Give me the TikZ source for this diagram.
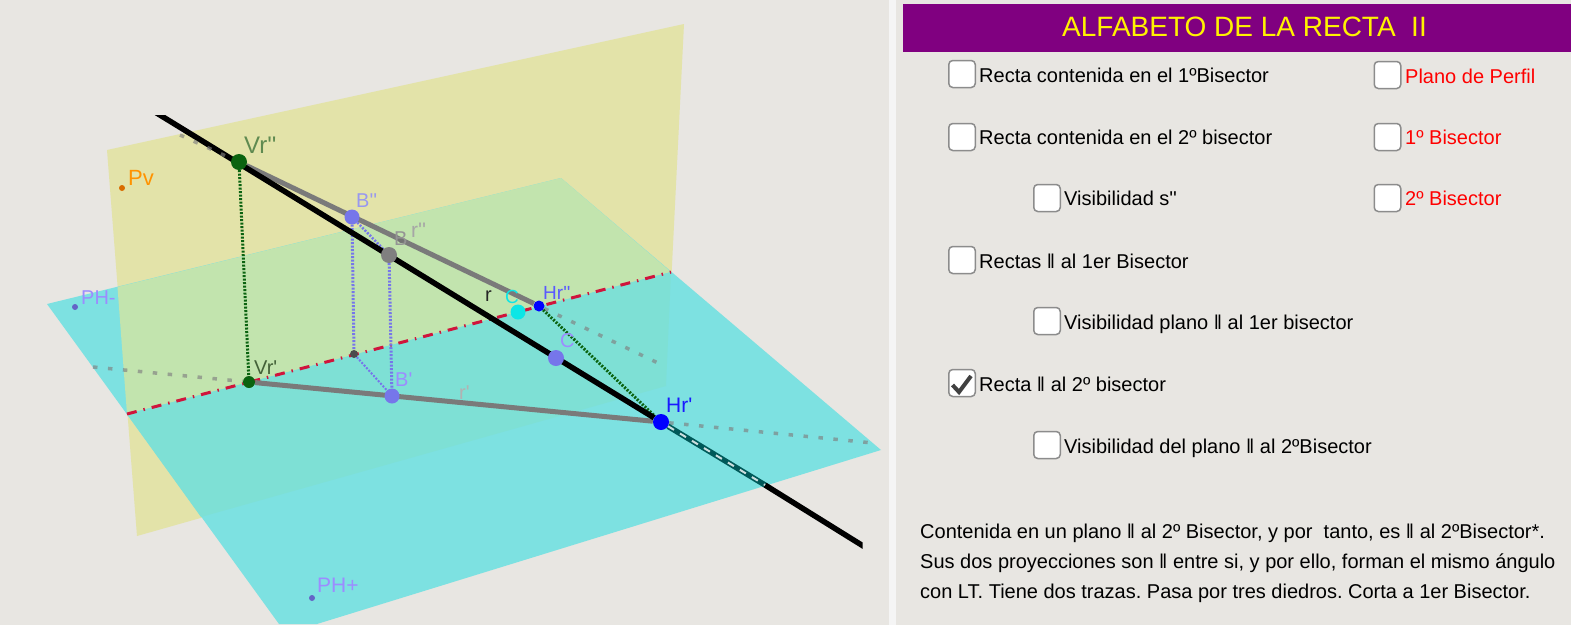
\documentclass[tikz,border=0pt]{standalone}
\usepackage{fontspec}
\setmainfont{Liberation Sans}[Ligatures=TeXOff]
\usepackage{tikz}
\usetikzlibrary{backgrounds}

\definecolor{panelbg}{HTML}{E8E6E2}
\definecolor{stripbg}{HTML}{F5F5F5}
\definecolor{planeyellow}{HTML}{E3E3A9}
\definecolor{planecyan}{HTML}{7DE1E1}
\definecolor{planegreen}{HTML}{C2E4AE}
\definecolor{planeteal}{HTML}{7EE0D5}
\definecolor{ltred}{HTML}{D0143C}
\definecolor{dgreen}{HTML}{0B6310}
\definecolor{bluept}{HTML}{7676EA}
\definecolor{cyanpt}{HTML}{0CE6E6}
\definecolor{violetlbl}{HTML}{9C8CFF}
\definecolor{greenlbl}{HTML}{5F8A50}
\definecolor{titlebg}{HTML}{800080}

\tikzset{
    pt/.style={circle, fill=#1, inner sep=0pt},
    lbl/.style={anchor=base west, inner sep=0pt, font=\fontsize{#1}{#1}\selectfont},
    chkbox/.style={draw=black!45, fill=white, line width=1.5pt, rounded corners=4pt,
        minimum width=26.5pt, minimum height=27pt, inner sep=0pt},
    txt/.style={anchor=base west, inner sep=0pt, font=\frenchspacing\fontsize{20}{20}\selectfont},
    ext/.style={black!50, opacity=.65, line width=3.5pt, dash pattern=on 4.5pt off 10.5pt},
    proj/.style={line width=3pt, dash pattern=on 2pt off 1.5pt},
}

\begin{document}
\begin{tikzpicture}[x=1pt, y=-1pt]
    \useasboundingbox (0,0) rectangle (1571,627);

    \node[pt=dgreen, minimum size=16pt] (vr2) at (239,162) {};
    \node[pt=dgreen, minimum size=12pt] (vr1) at (249,382) {};
    \node[pt=bluept, minimum size=15pt] (b2) at (352,217) {};
    \node[pt=black!50, minimum size=16pt] (b0) at (389,255) {};
    \node[pt=bluept, minimum size=15pt] (b1) at (392,396) {};
    \node[pt=black!70, minimum size=8pt] (bl) at (354,354) {};
    \node[pt=black!55, minimum size=6pt] (bm) at (401,240) {};
    \node[pt=cyanpt, minimum size=15pt] (o0) at (518,312) {};
    \node[pt=bluept, minimum size=16pt] (c0) at (556,358) {};
    \node[pt=blue, minimum size=11pt] (hr2) at (539,306) {};
    \node[pt=blue, minimum size=16pt] (hr1) at (661,422) {};
    \node[pt=orange!85!black, minimum size=6pt] (pv) at (122,188) {};
    \node[pt=bluept!85!black, minimum size=6pt] (phm) at (75,307) {};
    \node[pt=bluept!85!black, minimum size=6pt] (php) at (312,598) {};

    \coordinate (ra) at (155,112);
    \coordinate (rb) at (868,549);
    \coordinate (rc) at (765,485);
    \coordinate (lta) at (127,414);
    \coordinate (ltb) at (671,272);
    \coordinate (ea) at (180,135);
    \coordinate (eb) at (658,363);
    \coordinate (ec) at (93,367);
    \coordinate (ed) at (873,443);
    \coordinate (cka) at (952.5,385);
    \coordinate (ckb) at (959,392);
    \coordinate (ckc) at (971,376);

    \begin{scope}[on background layer]
        \fill[panelbg] (0,0) rectangle (1571,627);
        \fill[stripbg] (889,0) rectangle (896,627);
        \fill[planeyellow] (107,150) -- (684,24) -- (666,386) -- (137,536) -- cycle;
        \begin{scope}
            \clip (0,0) rectangle (1571,624.5);
            \fill[planecyan] (47,304) -- (561,178) -- (881,450) -- (317,624) -- (279,624) -- cycle;
        \end{scope}
        \fill[planegreen] (117.5,287) -- (561,178) -- (671,272) -- (127,414) -- cycle;
        \fill[planeteal] (127,414) -- (671,272) -- (666,386) -- (201,517) -- cycle;
        \fill[white] (0,624.5) rectangle (1571,627);
        \draw[ltred, line width=3pt, dash pattern=on 10pt off 7pt on 1.5pt off 7pt] (lta) -- (ltb);
        \draw[ext] (hr2) -- (eb);
        \draw[ext] (ec) -- (vr1);
        \draw[ext] (hr1) -- (ed);
        \draw[dgreen, proj] (vr2) -- (vr1);
        \draw[dgreen, proj] (hr2) -- (hr1);
        \draw[bluept, proj] (b2) -- (bl);
        \draw[bluept, proj] (b0) -- (b1);
        \draw[bluept, line width=2.5pt, dash pattern=on 2pt off 1.5pt] (b2) -- (b0);
        \draw[bluept, line width=2pt, dash pattern=on 2pt off 1.5pt] (bl) -- (b1);
        \draw[black!52, line width=5pt] (vr2) -- (hr2);
        \draw[black!52, line width=5pt] (vr1) -- (hr1);
        \begin{scope}
            \clip (0,115) rectangle (862.5,627);
            \draw[black, line width=5.5pt] (ra) -- (hr1);
            \draw[black, line width=5.5pt] (rc) -- (rb);
        \end{scope}
        \draw[ext] (ea) -- (vr2);
        \draw[teal!70!black, line width=5.5pt] (hr1) -- (rc);
        \draw[white, opacity=.8, line width=2pt, dash pattern=on 7pt off 7pt] (hr1) -- (rc);
    \end{scope}

    \node[lbl=24, text=greenlbl] (lvr2) at (244,153) {Vr''};
    \node[lbl=22, text=orange!85!yellow] (lpv) at (128,185) {Pv};
    \node[lbl=20, text=bluept!75!white] (lb2) at (356,207) {B''};
    \node[lbl=20, text=black!42] (lb0) at (394,245) {B};
    \node[lbl=21, text=black!35] (lr2) at (411,237) {r''};
    \node[lbl=20, text=violetlbl] (lphm) at (81,304) {PH-};
    \node[lbl=20, text=greenlbl!70!black] (lvr1) at (254,374) {Vr'};
    \node[lbl=20, text=violetlbl] (lb1) at (395,386) {B'};
    \node[lbl=20, text=black!30] (lr1) at (459,399) {r'};
    \node[lbl=20, text=black!85] (lr0) at (485,301) {r};
    \node[lbl=19, text=cyanpt] (lo0) at (505,303) {C};
    \node[lbl=20, text=violetlbl] (lc0) at (560,347) {C};
    \node[lbl=19, text=blue!65!white] (lhr2) at (543,299) {Hr''};
    \node[lbl=21, text=blue!90!white] (lhr1) at (666,412) {Hr'};
    \node[lbl=21, text=violetlbl] (lphp) at (317,592) {PH+};

    \node[fill=titlebg, anchor=north west, minimum width=668pt, minimum height=48pt, inner sep=0pt] (title) at (903,4) {};
    \node[text=yellow, inner sep=0pt, font=\fontsize{28}{28}\selectfont] (ttl) at (1244.5,27) {ALFABETO DE LA RECTA\ \ II};

    \node[chkbox] (box1) at (962,74) {};
    \node[txt] (t1) at (979,82) {Recta contenida en el 1ºBisector};
    \node[chkbox] (box2) at (962,137) {};
    \node[txt] (t2) at (979,144) {Recta contenida en el 2º bisector};
    \node[chkbox] (box3) at (1047,198) {};
    \node[txt] (t3) at (1064,205) {Visibilidad s''};
    \node[chkbox] (box4) at (962,260) {};
    \node[txt] (t4) at (979,268) {Rectas ‖ al 1er Bisector};
    \node[chkbox] (box5) at (1047,321) {};
    \node[txt] (t5) at (1064,329) {Visibilidad plano ‖ al 1er bisector};
    \node[chkbox] (box6) at (962,383) {};
    \node[txt] (t6) at (979,391) {Recta ‖ al 2º bisector};
    \node[chkbox] (box7) at (1047,445) {};
    \node[txt] (t7) at (1064,453) {Visibilidad del plano ‖ al 2ºBisector};
    \draw[black!75, line width=4pt] (cka) -- (ckb) -- (ckc);

    \node[chkbox] (box8) at (1387.5,75) {};
    \node[txt, text=red] (t8) at (1405,83) {Plano de Perfil};
    \node[chkbox] (box9) at (1387.5,137) {};
    \node[txt, text=red] (t9) at (1405,144) {1º Bisector};
    \node[chkbox] (box10) at (1387.5,198) {};
    \node[txt, text=red] (t10) at (1405,205) {2º Bisector};

    \node[txt] (p1) at (920,538) {Contenida en un plano ‖ al 2º Bisector, y por\ \ tanto, es ‖ al 2ºBisector*.};
    \node[txt] (p2) at (920,568) {Sus dos proyecciones son ‖ entre si, y por ello, forman el mismo ángulo};
    \node[txt] (p3) at (920,598) {con LT. Tiene dos trazas. Pasa por tres diedros. Corta a 1er Bisector.};
\end{tikzpicture}
\end{document}
